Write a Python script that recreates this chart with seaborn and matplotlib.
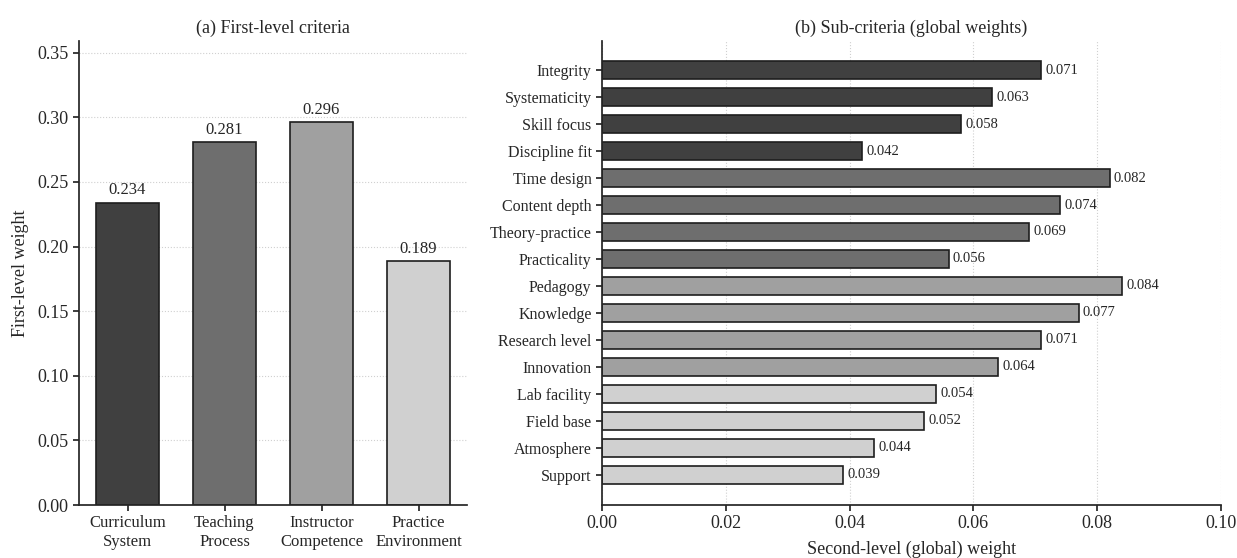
import matplotlib
matplotlib.use("Agg")
import matplotlib.pyplot as plt
from matplotlib.ticker import FormatStrFormatter
import seaborn as sns
import pandas as pd

# First-level criteria weights
criteria = ["Curriculum\nSystem", "Teaching\nProcess", "Instructor\nCompetence", "Practice\nEnvironment"]
criteria_weights = [0.234, 0.281, 0.296, 0.189]

# Sub-criteria global weights, grouped by parent criterion
sub_criteria = ["Integrity", "Systematicity", "Skill focus", "Discipline fit",
                "Time design", "Content depth", "Theory-practice", "Practicality",
                "Pedagogy", "Knowledge", "Research level", "Innovation",
                "Lab facility", "Field base", "Atmosphere", "Support"]
sub_weights = [0.071, 0.063, 0.058, 0.042,
               0.082, 0.074, 0.069, 0.056,
               0.084, 0.077, 0.071, 0.064,
               0.054, 0.052, 0.044, 0.039]
sub_parent = [0] * 4 + [1] * 4 + [2] * 4 + [3] * 4

greys = ["#404040", "#6e6e6e", "#a0a0a0", "#d0d0d0"]

sns.set_theme(style="ticks")
plt.rcParams["font.family"] = ["Liberation Serif", "DejaVu Serif"]

fig = plt.figure(figsize=(12.37, 5.58), dpi=100)
W, H = 1237, 558
bottom, top = 505, 41
ax1 = fig.add_axes([79 / W, (H - bottom) / H, (467 - 79) / W, (bottom - top) / H])
ax2 = fig.add_axes([602 / W, (H - bottom) / H, (1221 - 602) / W, (bottom - top) / H])

# (a) first-level bars
df1 = pd.DataFrame({"criterion": criteria, "weight": criteria_weights})
sns.barplot(data=df1, x="criterion", y="weight", hue="criterion", palette=greys,
            legend=False, width=0.65, edgecolor="#1e1e1e", linewidth=1.2, ax=ax1)
for patch, v in zip(ax1.patches, criteria_weights):
    ax1.annotate(f"{v:.3f}", (patch.get_x() + patch.get_width() / 2, v),
                 xytext=(0, 3), textcoords="offset points",
                 ha="center", va="bottom", fontsize=12)
ax1.set_ylim(0, 0.359)
ax1.set_xlim(-0.5, 3.5)
ax1.set_yticks([0, 0.05, 0.10, 0.15, 0.20, 0.25, 0.30, 0.35])
ax1.yaxis.set_major_formatter(FormatStrFormatter("%.2f"))
ax1.set_xlabel("")
ax1.set_ylabel("First-level weight", fontsize=13, labelpad=6)
ax1.set_title("(a) First-level criteria", fontsize=13, pad=6)
ax1.grid(axis="y", linestyle=":", linewidth=0.8, color="#d0d0d0")
ax1.set_axisbelow(True)
ax1.tick_params(axis="y", labelsize=13, length=4)
ax1.tick_params(axis="x", labelsize=12, length=4)

# (b) sub-criteria bars
df2 = pd.DataFrame({"sub": sub_criteria, "weight": sub_weights,
                    "group": [str(g) for g in sub_parent]})
sns.barplot(data=df2, y="sub", x="weight", hue="group",
            palette={str(i): c for i, c in enumerate(greys)}, dodge=False,
            legend=False, width=0.67, edgecolor="#1e1e1e", linewidth=1.2, ax=ax2)
bars = sorted([p for p in ax2.patches if p.get_height() > 0], key=lambda p: p.get_y())
for patch in bars:
    w = patch.get_width()
    ax2.annotate(f"{w:.3f}", (w, patch.get_y() + patch.get_height() / 2),
                 xytext=(3, 0), textcoords="offset points",
                 ha="left", va="center", fontsize=10.5)
ax2.set_xlim(0, 0.10)
ax2.set_ylim(15 + 1.12, -1.08)
ax2.set_xticks([0, 0.02, 0.04, 0.06, 0.08, 0.10])
ax2.xaxis.set_major_formatter(FormatStrFormatter("%.2f"))
ax2.set_ylabel("")
ax2.set_xlabel("Second-level (global) weight", fontsize=13, labelpad=6)
ax2.set_title("(b) Sub-criteria (global weights)", fontsize=13, pad=6)
ax2.grid(axis="x", linestyle=":", linewidth=0.8, color="#d0d0d0")
ax2.set_axisbelow(True)
ax2.tick_params(axis="x", labelsize=13, length=4)
ax2.tick_params(axis="y", labelsize=11.5, length=4)

sns.despine(fig=fig)
fig.savefig("out.png", dpi=100)
